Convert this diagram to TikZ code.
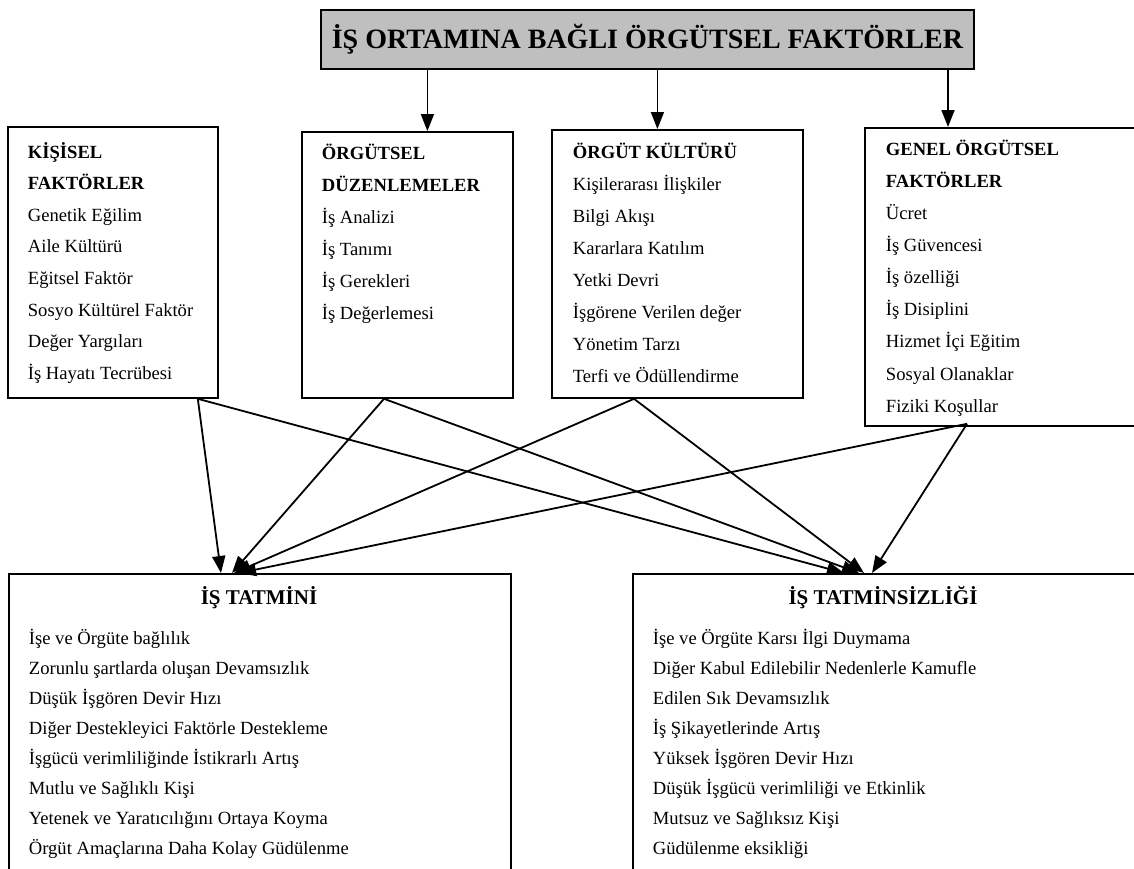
\documentclass[tikz,border=0pt]{standalone}
\usepackage{fontspec}
\setmainfont{Liberation Serif}
\usetikzlibrary{arrows.meta}
\begin{document}
\begin{tikzpicture}[x=1pt, y=-1pt, line width=1.8pt, line join=miter,
  >={Triangle[length=17pt,width=13pt]},
  fbox/.style={draw, inner sep=0pt, anchor=north west},
  item/.style={anchor=base west, inner sep=0pt, font=\fontsize{18.6}{22}\selectfont},
  head/.style={item, font=\fontsize{18.6}{22}\selectfont\bfseries},
  conn/.style={->, line width=1.8pt}]
\useasboundingbox (0,0) rectangle (1134,868);
% top box
\node[fbox, fill=black!25, minimum width=653pt, minimum height=59pt] (top) at (320,9) {};
\node[inner sep=0pt, font=\fontsize{28}{32}\selectfont\bfseries] (title) at (top.center) {İŞ ORTAMINA BAĞLI ÖRGÜTSEL FAKTÖRLER};
% factor boxes
\node[fbox, minimum width=210pt, minimum height=271pt] (kis) at (7,126) {};
\node[fbox, minimum width=211pt, minimum height=266pt] (duz) at (301,131) {};
\node[fbox, minimum width=251pt, minimum height=268pt] (kul) at (551,129) {};
\node[fbox, minimum width=280pt, minimum height=298pt] (gen) at (864,127) {};
% result boxes
\node[fbox, minimum width=502pt, minimum height=310pt] (sat) at (8,573) {};
\node[fbox, minimum width=512pt, minimum height=310pt] (dis) at (632,573) {};
% texts
\node[head] (kis-h1) at (27,158) {KİŞİSEL};
\node[head] (kis-h2) at (27,189.6) {FAKTÖRLER};
\foreach \t [count=\i from 0] in {Genetik Eğilim, Aile Kültürü, Eğitsel Faktör, Sosyo Kültürel Faktör, Değer Yargıları, İş Hayatı Tecrübesi}
  \node[item] (kis-\i) at (27,221.2+31.6*\i) {\t};
\node[head] (duz-h1) at (321,159) {ÖRGÜTSEL};
\node[head] (duz-h2) at (321,191) {DÜZENLEMELER};
\foreach \t [count=\i from 0] in {İş Analizi, İş Tanımı, İş Gerekleri, İş Değerlemesi}
  \node[item] (duz-\i) at (321,223+32*\i) {\t};
\node[head] (kul-h1) at (572,158) {ÖRGÜT KÜLTÜRÜ};
\foreach \t [count=\i from 0] in {Kişilerarası İlişkiler, Bilgi Akışı, Kararlara Katılım, Yetki Devri, İşgörene Verilen değer, Yönetim Tarzı, Terfi ve Ödüllendirme}
  \node[item] (kul-\i) at (572,190+32.1*\i) {\t};
\node[head] (gen-h1) at (885,155) {GENEL ÖRGÜTSEL};
\node[head] (gen-h2) at (885,187) {FAKTÖRLER};
\foreach \t [count=\i from 0] in {Ücret, İş Güvencesi, İş özelliği, İş Disiplini, Hizmet İçi Eğitim, Sosyal Olanaklar, Fiziki Koşullar}
  \node[item] (gen-\i) at (885,219+32.2*\i) {\t};
\node[anchor=base, inner sep=0pt, font=\fontsize{21}{24}\selectfont\bfseries] (sat-t) at (259,604) {İŞ TATMİNİ};
\foreach \t [count=\i from 0] in {İşe ve Örgüte bağlılık, Zorunlu şartlarda oluşan Devamsızlık, Düşük İşgören Devir Hızı, Diğer Destekleyici Faktörle Destekleme, İşgücü verimliliğinde İstikrarlı Artış, Mutlu ve Sağlıklı Kişi, Yetenek ve Yaratıcılığını Ortaya Koyma, Örgüt Amaçlarına Daha Kolay Güdülenme}
  \node[item] (sat-\i) at (28,644+30*\i) {\t};
\node[anchor=base, inner sep=0pt, font=\fontsize{21}{24}\selectfont\bfseries] (dis-t) at (883,604) {İŞ TATMİNSİZLİĞİ};
\foreach \t [count=\i from 0] in {İşe ve Örgüte Karsı İlgi Duymama, Diğer Kabul Edilebilir Nedenlerle Kamufle, Edilen Sık Devamsızlık, İş Şikayetlerinde Artış, Yüksek İşgören Devir Hızı, Düşük İşgücü verimliliği ve Etkinlik, Mutsuz ve Sağlıksız Kişi, Güdülenme eksikliği}
  \node[item] (dis-\i) at (652,644+30*\i) {\t};
% arrows from the top box
\coordinate (duz-i) at ([xshift=20pt]duz.north);
\coordinate (kul-i) at ([xshift=-20pt]kul.north);
\coordinate (gen-i) at ([xshift=84pt]gen.north west);
\foreach \s in {duz,kul,gen}
  \draw[conn] (\s-i |- top.south) -- (\s-i);
% crossing arrows
\coordinate (kis-o) at ([xshift=-21pt]kis.south east);
\coordinate (duz-o) at ([xshift=83pt]duz.south west);
\coordinate (kul-o) at ([xshift=83pt]kul.south west);
\coordinate (gen-o) at ([xshift=103pt,yshift=3pt]gen.south west);
\foreach \s/\a/\b in {kis/213/212, duz/224/227, kul/226/232, gen/231/240}{
  \draw[conn] (\s-o) -- ([xshift=\a pt]sat.north west);
  \draw[conn] (\s-o) -- ([xshift=\b pt]dis.north west);
}
\end{tikzpicture}
\end{document}
